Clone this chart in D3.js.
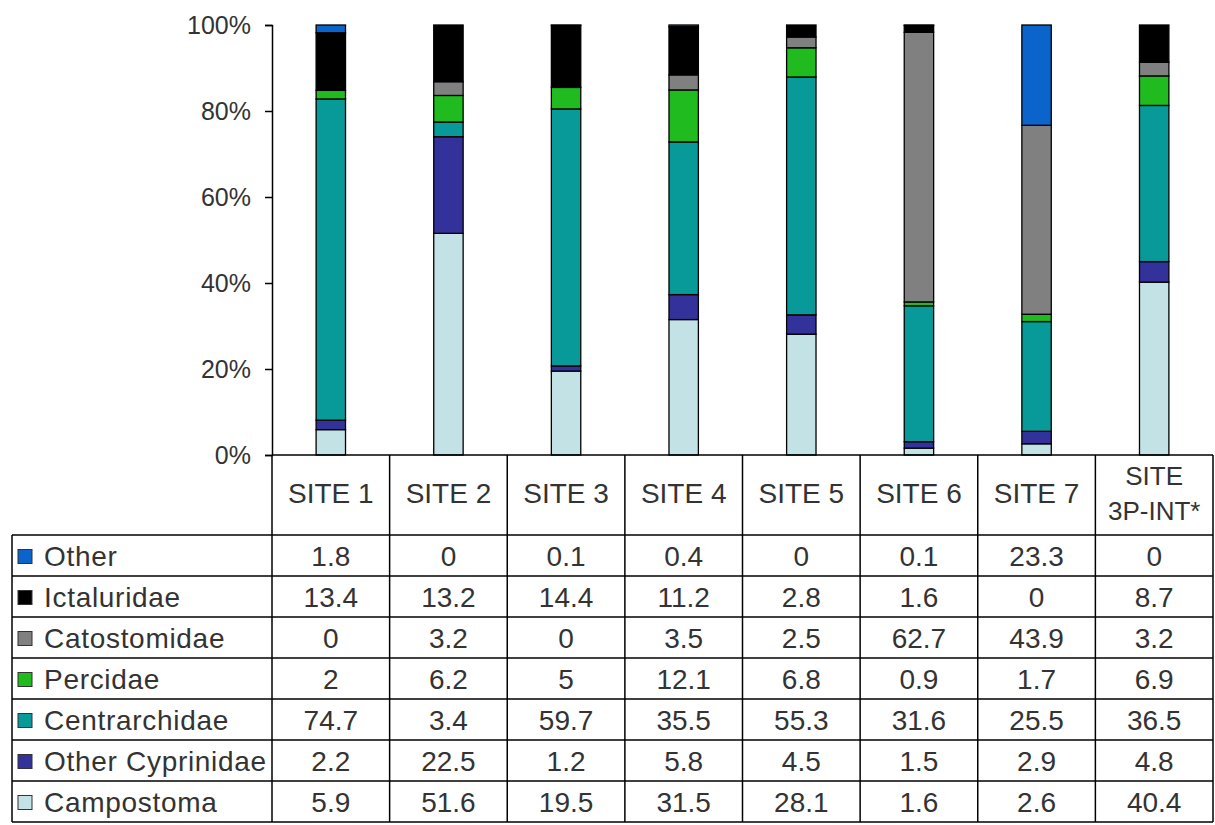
<!DOCTYPE html>
<html>
<head>
<meta charset="utf-8">
<script src="https://cdn.jsdelivr.net/npm/d3@7"></script>
<style>
  body { margin: 0; background: #fff; }
  svg text { font-family: "Liberation Sans", Arial, sans-serif; fill: #333; }
</style>
</head>
<body>
<script>
const sites = ["SITE 1", "SITE 2", "SITE 3", "SITE 4", "SITE 5", "SITE 6", "SITE 7", "SITE 3P-INT*"];
// table order (top to bottom) = stack order reversed
const groups = ["Other", "Ictaluridae", "Catostomidae", "Percidae", "Centrarchidae", "Other Cyprinidae", "Campostoma"];
const other = [1.8, 0, 0.1, 0.4, 0, 0.1, 23.3, 0];
const ictaluridae = [13.4, 13.2, 14.4, 11.2, 2.8, 1.6, 0, 8.7];
const catostomidae = [0, 3.2, 0, 3.5, 2.5, 62.7, 43.9, 3.2];
const percidae = [2, 6.2, 5, 12.1, 6.8, 0.9, 1.7, 6.9];
const centrarchidae = [74.7, 3.4, 59.7, 35.5, 55.3, 31.6, 25.5, 36.5];
const otherCyprinidae = [2.2, 22.5, 1.2, 5.8, 4.5, 1.5, 2.9, 4.8];
const campostoma = [5.9, 51.6, 19.5, 31.5, 28.1, 1.6, 2.6, 40.4];
const yTicks = [0, 0.2, 0.4, 0.6, 0.8, 1];

const seriesValues = [other, ictaluridae, catostomidae, percidae, centrarchidae, otherCyprinidae, campostoma];
const colors = ["#0a64cc", "#000000", "#808080", "#1fbb1f", "#079a98", "#32329a", "#c2e2e6"];

const W = 1215, H = 825;
const plotLeft = 272, plotRight = 1213, plotTop = 25, base = 455;
const headerBottom = 535, tableBottom = 822, tableLeft = 12;
const fontSize = 28;

const svg = d3.select("body").append("svg").attr("width", W).attr("height", H);

const rows = sites.map((s, i) => {
  const r = { site: s };
  groups.forEach((g, k) => (r[g] = seriesValues[k][i]));
  return r;
});

const stackKeys = groups.slice().reverse();
const stacked = d3.stack().keys(stackKeys).offset(d3.stackOffsetExpand)(rows);
const color = d3.scaleOrdinal().domain(groups).range(colors);

const col = d3.scaleBand().domain(sites).range([plotLeft, plotRight]).padding(0);
const xBar = d3.scaleBand().domain(sites).range([plotLeft, plotRight]).paddingInner(0.75).paddingOuter(0.375);
const y = d3.scaleLinear().domain([0, 1]).range([base, plotTop]);

// bars
svg.append("g")
  .selectAll("g")
  .data(stacked)
  .join("g")
  .attr("fill", (d) => color(d.key))
  .selectAll("rect")
  .data((d) => d.filter((p) => p[1] - p[0] > 0))
  .join("rect")
  .attr("x", (d) => xBar(d.data.site))
  .attr("width", xBar.bandwidth())
  .attr("y", (d) => y(d[1]))
  .attr("height", (d) => y(d[0]) - y(d[1]))
  .attr("stroke", "#000")
  .attr("stroke-width", 1.3);

// y axis
const yAxis = svg.append("g")
  .attr("transform", `translate(${plotLeft},0)`)
  .call(d3.axisLeft(y).tickValues(yTicks).tickFormat(d3.format(".0%")).tickSize(7).tickPadding(14));
yAxis.select(".domain").attr("stroke", "#000").attr("stroke-width", 1.5);
yAxis.selectAll(".tick line").attr("stroke", "#000").attr("stroke-width", 1.5);
yAxis.selectAll(".tick text").attr("font-size", 25).attr("fill", "#333")
  .attr("font-family", '"Liberation Sans", Arial, sans-serif');

// table
const table = svg.append("g");
const rowH = (tableBottom - headerBottom) / groups.length;
const line = (x1, y1, x2, y2) =>
  table.append("line").attr("x1", x1).attr("y1", y1).attr("x2", x2).attr("y2", y2)
    .attr("stroke", "#000").attr("stroke-width", 1.5);

line(plotLeft, base, plotRight, base);
line(tableLeft, headerBottom, plotRight, headerBottom);
groups.forEach((g, k) => line(tableLeft, headerBottom + rowH * (k + 1), plotRight, headerBottom + rowH * (k + 1)));
line(tableLeft, headerBottom, tableLeft, tableBottom);
sites.forEach((s) => line(col(s), base, col(s), tableBottom));
line(plotRight, base, plotRight, tableBottom);

// header labels
sites.forEach((s) => {
  const cx = col(s) + col.bandwidth() / 2;
  const parts = s === "SITE 3P-INT*" ? ["SITE", "3P-INT*"] : [s];
  const t = table.append("text").attr("text-anchor", "middle").attr("font-size", fontSize);
  if (parts.length === 1) {
    t.attr("x", cx).attr("y", 503).text(parts[0]);
  } else {
    t.attr("font-size", 26);
    parts.forEach((p, i) =>
      t.append("tspan").attr("x", cx).attr("y", 485 + i * 35).text(p));
  }
});

// rows
groups.forEach((g, k) => {
  const cy = headerBottom + rowH * (k + 0.5);
  table.append("rect")
    .attr("x", 18).attr("y", cy - 6).attr("width", 14).attr("height", 14)
    .attr("fill", color(g)).attr("stroke", "#333").attr("stroke-width", 1);
  table.append("text").attr("x", 44).attr("y", cy + 10).attr("font-size", fontSize)
    .attr("letter-spacing", 0.7).text(g);
  seriesValues[k].forEach((v, i) => {
    table.append("text")
      .attr("x", col(sites[i]) + col.bandwidth() / 2)
      .attr("y", cy + 10)
      .attr("text-anchor", "middle")
      .attr("font-size", fontSize)
      .text(v);
  });
});
</script>
</body>
</html>
